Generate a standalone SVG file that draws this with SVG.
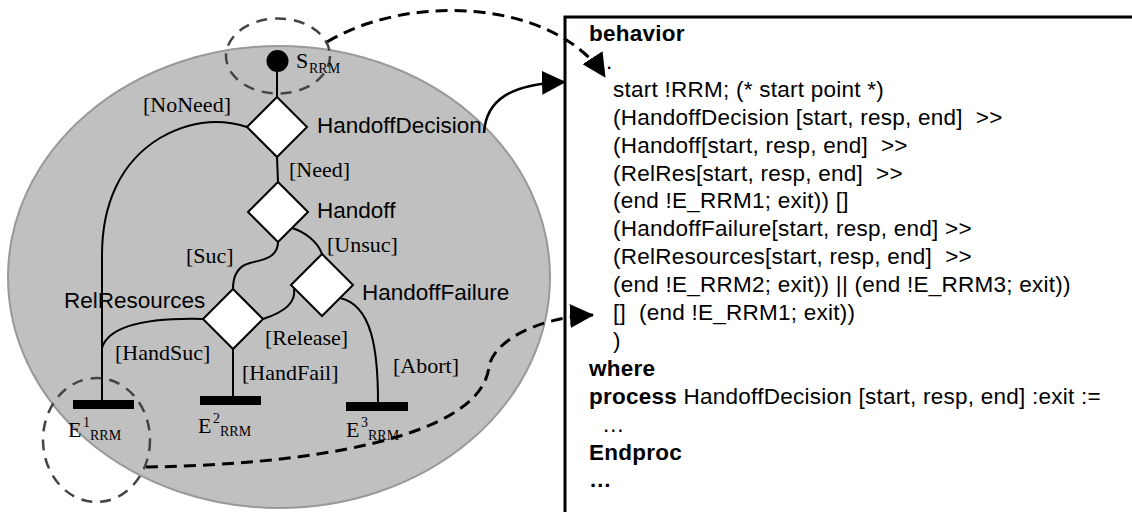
<svg xmlns="http://www.w3.org/2000/svg" width="1132" height="512" viewBox="0 0 1132 512">
<defs>
<style>
.flow{fill:none;stroke:#000;stroke-width:2}
.dia{fill:#fff;stroke:#000;stroke-width:2}
.guard{font-family:"Liberation Serif","Times New Roman",serif;font-size:22px;fill:#000}
.lbl{font-family:"Liberation Sans",Arial,sans-serif;font-size:22.5px;fill:#000}
.code{font-family:"Liberation Sans",Arial,sans-serif;font-size:22.5px;letter-spacing:0.25px;fill:#000;white-space:pre}
.b{font-weight:bold}
.focus{fill:none;stroke:#444;stroke-width:2.5;stroke-dasharray:11 8}
.link{fill:none;stroke:#000;stroke-width:3;stroke-dasharray:12 7}
.arrow{fill:none;stroke:#000;stroke-width:2.5}
.sub{font-size:14px}
</style>
<marker id="ah" viewBox="0 0 24 24" markerUnits="userSpaceOnUse" markerWidth="24" markerHeight="24" refX="23" refY="12" orient="auto">
<path d="M0,0 L24,12 L0,24 z" fill="#000"/>
</marker>
</defs>
<rect width="1132" height="512" fill="#fff"/>

<g id="rrm-scope">
<ellipse cx="279" cy="277" rx="271" ry="231" fill="#c0c0c0" stroke="#999" stroke-width="2"/>
</g>

<g id="connectors">
<line class="flow" x1="277" y1="70" x2="277" y2="97"/>
<line class="flow" x1="277" y1="157" x2="278" y2="182"/>
<path class="flow" d="M247,127 C225,120 195,118 160,138 C120,162 102,205 102,255 L102,400"/>
<path class="flow" d="M203,319 C160,318 110,322 102,348"/>
<path class="flow" d="M278,242 C278,258 262,260 250,263 C238,266 233,275 233,289"/>
<path class="flow" d="M292,228 C305,232 318,242 322,254"/>
<path class="flow" d="M263,319 C285,312 296,302 294,289"/>
<path class="flow" d="M340,298 C372,305 378,350 378,402"/>
<line class="flow" x1="233" y1="349" x2="233" y2="396"/>
<text class="guard" x="143" y="112">[NoNeed]</text>
<text class="guard" x="289" y="177">[Need]</text>
<text class="guard" x="327" y="252">[Unsuc]</text>
<text class="guard" x="186" y="263">[Suc]</text>
<text class="guard" x="265" y="345">[Release]</text>
<text class="guard" x="115" y="360">[HandSuc]</text>
<text class="guard" x="242" y="380">[HandFail]</text>
<text class="guard" x="393" y="373">[Abort]</text>
<path class="arrow" d="M484,133 C486,100 510,84 565,82" marker-end="url(#ah)"/>
<path class="link" d="M327,42 C410,-8 555,0 605,77" marker-end="url(#ah)"/>
<path class="link" d="M146,467 C300,465 480,440 489,367 C492,345 530,318 593,315" marker-end="url(#ah)"/>
</g>

<g id="start">
<ellipse class="focus" cx="278" cy="56" rx="52" ry="37.5"/>
<circle cx="277.5" cy="61" r="11" fill="#000"/>
<text class="guard" x="296" y="68" font-size="21">S<tspan class="sub" x="309" y="73">RRM</tspan></text>
</g>

<g id="handoff-decision">
<polygon class="dia" points="277,97 307,127 277,157 247,127"/>
<text class="lbl" x="317" y="133">HandoffDecision</text>
</g>

<g id="handoff">
<polygon class="dia" points="278,182 308,212 278,242 248,212"/>
<text class="lbl" x="317" y="218">Handoff</text>
</g>

<g id="handoff-failure">
<polygon class="dia" points="322,254 353,285 322,316 291,285"/>
<text class="lbl" x="362" y="300">HandoffFailure</text>
</g>

<g id="rel-resources">
<polygon class="dia" points="233,289 263,319 233,349 203,319"/>
<text class="lbl" x="64" y="308">RelResources</text>
</g>

<g id="end1">
<ellipse class="focus" cx="96.5" cy="440" rx="53.5" ry="62"/>
<rect x="73" y="400" width="61" height="9" fill="#000"/>
<text class="guard" x="68" y="437" font-size="24">E<tspan class="sub" x="83" y="427">1</tspan><tspan class="sub" x="90" y="440">RRM</tspan></text>
</g>

<g id="end2">
<rect x="200" y="396" width="61" height="9" fill="#000"/>
<text class="guard" x="198" y="433" font-size="24">E<tspan class="sub" x="213" y="423">2</tspan><tspan class="sub" x="220" y="436">RRM</tspan></text>
</g>

<g id="end3">
<rect x="346" y="402" width="62" height="9" fill="#000"/>
<text class="guard" x="346" y="437" font-size="24">E<tspan class="sub" x="361" y="427">3</tspan><tspan class="sub" x="368" y="440">RRM</tspan></text>
</g>

<g id="lotos-spec">
<path d="M565,512 L565,17 L1132,17" fill="none" stroke="#000" stroke-width="3"/>
<g class="code">
<text xml:space="preserve" class="b" x="589" y="41">behavior</text>
<text xml:space="preserve" x="606" y="69">.</text>
<text xml:space="preserve" x="613" y="97">start !RRM; (* start point *)</text>
<text xml:space="preserve" x="613" y="125">(HandoffDecision [start, resp, end]  &gt;&gt;</text>
<text xml:space="preserve" x="613" y="153">(Handoff[start, resp, end]  &gt;&gt;</text>
<text xml:space="preserve" x="613" y="181">(RelRes[start, resp, end]  &gt;&gt;</text>
<text xml:space="preserve" x="613" y="208">(end !E_RRM1; exit)) []</text>
<text xml:space="preserve" x="613" y="236">(HandoffFailure[start, resp, end] &gt;&gt;</text>
<text xml:space="preserve" x="613" y="264">(RelResources[start, resp, end]  &gt;&gt;</text>
<text xml:space="preserve" x="613" y="292">(end !E_RRM2; exit)) || (end !E_RRM3; exit))</text>
<text xml:space="preserve" x="613" y="320">[]  (end !E_RRM1; exit))</text>
<text xml:space="preserve" x="613" y="348">)</text>
<text xml:space="preserve" class="b" x="589" y="376">where</text>
<text xml:space="preserve" x="589" y="404"><tspan class="b">process</tspan> HandoffDecision [start, resp, end] :exit :=</text>
<text xml:space="preserve" x="602" y="432">…</text>
<text xml:space="preserve" class="b" x="589" y="460">Endproc</text>
<text xml:space="preserve" class="b" x="589" y="487">…</text>
</g>
</g>
</svg>
